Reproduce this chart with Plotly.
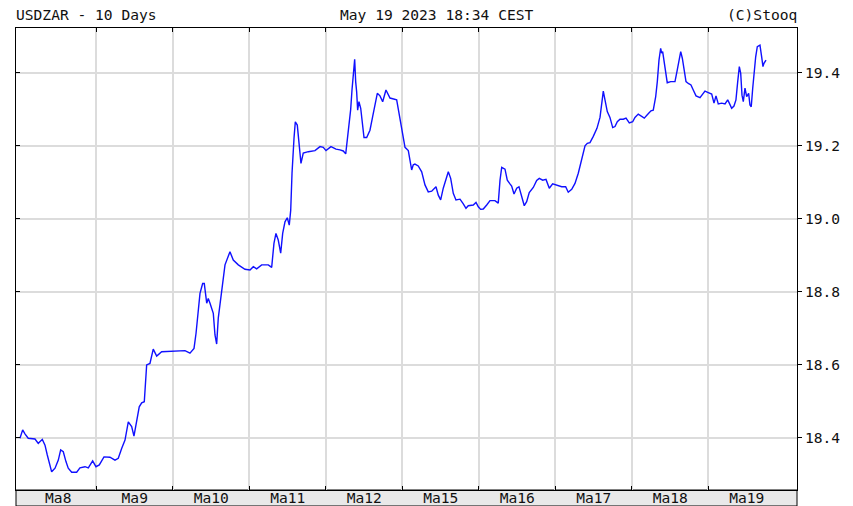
import plotly.graph_objects as go

# Time in days since start of May 8 session, value of USDZAR
t = [0.000,0.035,0.065,0.108,0.196,0.239,0.292,0.327,0.357,0.383,0.414,0.458,0.501,0.532,0.566,0.601,0.631,0.676,0.741,0.784,
     0.850,0.893,0.950,0.993,1.037,1.098,1.176,1.242,1.285,1.329,1.373,1.416,1.460,1.490,1.525,1.559,1.591,1.625,1.656,1.699,
     1.742,1.787,1.852,2.092,2.157,2.222,2.275,2.301,2.331,2.353,2.388,2.409,2.441,2.461,2.484,2.527,2.549,2.571,2.592,2.624,
     2.650,2.680,2.745,2.788,2.854,2.941,3.007,3.050,3.094,3.159,3.246,3.290,3.320,3.346,3.376,3.408,3.434,3.464,3.494,3.520,
     3.539,3.556,3.582,3.599,3.625,3.643,3.660,3.673,3.703,3.769,3.856,3.922,3.965,4.000,4.065,4.131,4.183,4.226,4.258,4.278,
     4.301,4.323,4.340,4.357,4.375,4.388,4.401,4.414,4.431,4.454,4.475,4.497,4.532,4.575,4.610,4.641,4.671,4.706,4.741,4.784,
     4.837,4.924,4.954,4.990,5.010,5.033,5.076,5.098,5.120,5.141,5.163,5.206,5.251,5.294,5.337,5.382,5.438,5.468,5.499,5.533,
     5.565,5.599,5.630,5.664,5.699,5.752,5.795,5.830,5.860,5.925,5.961,5.991,6.022,6.056,6.101,6.144,6.209,6.252,6.275,6.297,
     6.340,6.370,6.405,6.427,6.458,6.493,6.523,6.558,6.592,6.623,6.657,6.710,6.754,6.788,6.833,6.876,6.919,6.963,7.016,7.081,
     7.133,7.167,7.212,7.255,7.298,7.342,7.386,7.416,7.451,7.494,7.542,7.582,7.604,7.625,7.647,7.677,7.712,7.748,7.778,7.808,
     7.843,7.886,7.922,7.965,8.009,8.039,8.082,8.127,8.161,8.200,8.248,8.278,8.310,8.331,8.353,8.375,8.388,8.401,8.422,8.444,
     8.461,8.506,8.562,8.592,8.618,8.637,8.658,8.680,8.706,8.736,8.771,8.801,8.837,8.889,8.954,8.997,9.042,9.072,9.098,9.128,
     9.173,9.216,9.251,9.272,9.303,9.333,9.359,9.382,9.403,9.421,9.438,9.455,9.477,9.499,9.525,9.542,9.559,9.578,9.595,9.617,
     9.638,9.673,9.695,9.712,9.725,9.752]
usdzar = [18.398,18.421,18.410,18.398,18.396,18.384,18.395,18.379,18.352,18.334,18.306,18.316,18.338,18.366,18.361,18.334,18.316,18.305,18.305,18.317,
          18.320,18.317,18.336,18.320,18.325,18.347,18.346,18.338,18.343,18.370,18.393,18.443,18.430,18.404,18.448,18.484,18.495,18.498,18.599,18.603,
          18.642,18.623,18.635,18.637,18.638,18.631,18.644,18.685,18.745,18.795,18.822,18.822,18.768,18.781,18.768,18.740,18.681,18.656,18.727,18.777,
          18.818,18.873,18.909,18.886,18.873,18.861,18.859,18.868,18.862,18.873,18.873,18.866,18.932,18.959,18.941,18.905,18.959,18.991,19.002,18.982,
          19.023,19.124,19.220,19.265,19.256,19.220,19.169,19.151,19.179,19.183,19.186,19.197,19.195,19.186,19.197,19.190,19.188,19.185,19.177,19.215,
          19.252,19.299,19.352,19.407,19.436,19.375,19.347,19.297,19.320,19.302,19.252,19.222,19.222,19.242,19.279,19.311,19.343,19.336,19.320,19.352,
          19.330,19.325,19.288,19.242,19.215,19.195,19.186,19.160,19.133,19.147,19.149,19.144,19.128,19.092,19.073,19.075,19.087,19.064,19.051,19.083,
          19.105,19.128,19.110,19.069,19.051,19.053,19.040,19.028,19.035,19.037,19.044,19.032,19.025,19.026,19.037,19.049,19.049,19.042,19.105,19.140,
          19.135,19.105,19.095,19.089,19.067,19.083,19.087,19.060,19.035,19.046,19.071,19.085,19.104,19.110,19.105,19.107,19.083,19.095,19.092,19.087,
          19.087,19.072,19.080,19.096,19.124,19.160,19.199,19.206,19.208,19.225,19.247,19.277,19.316,19.349,19.325,19.293,19.277,19.249,19.252,19.265,
          19.272,19.272,19.275,19.262,19.265,19.277,19.286,19.281,19.275,19.284,19.295,19.297,19.334,19.375,19.434,19.466,19.453,19.457,19.425,19.393,
          19.372,19.375,19.375,19.407,19.443,19.457,19.439,19.412,19.375,19.370,19.366,19.352,19.336,19.331,19.349,19.345,19.341,19.316,19.336,19.314,
          19.316,19.314,19.325,19.316,19.302,19.308,19.325,19.375,19.416,19.398,19.338,19.320,19.357,19.334,19.343,19.311,19.306,19.357,19.398,19.443,
          19.471,19.475,19.443,19.416,19.425,19.434]

day_labels = ["Ma8", "Ma9", "Ma10", "Ma11", "Ma12", "Ma15", "Ma16", "Ma17", "Ma18", "Ma19"]
day_bounds = [1, 2, 3, 4, 5, 6, 7, 8, 9]
day_centers = [i + 0.5 for i in range(len(day_labels))]
y_ticks = [18.4, 18.6, 18.8, 19.0, 19.2, 19.4]
y_ticktext = ["18.4", "18.6", "18.8", "19.0", "19.2", "19.4"]

title_left = "USDZAR - 10 Days"
title_mid = "May 19 2023 18:34 CEST"
title_right = "(C)Stooq"

XR = [-0.052, 10.157]
YR = [18.2562, 19.5219]
FONT = "DejaVu Sans Mono"
FS = 14.6
GRID = "#dcdcdc"

fig = go.Figure()
fig.add_trace(go.Scatter(x=t, y=usdzar, mode="lines",
                         line=dict(color="#1010ff", width=1.4),
                         showlegend=False, hoverinfo="x+y"))
# empty trace to attach label axis
fig.add_trace(go.Scatter(x=[None], y=[None], xaxis="x2", yaxis="y2",
                         showlegend=False, hoverinfo="skip"))

fig.update_layout(
    width=853, height=506,
    margin=dict(l=16, r=56, t=28, b=16, autoexpand=False),
    paper_bgcolor="white", plot_bgcolor="white",
    font=dict(family=FONT, size=FS, color="#111"),
    xaxis=dict(range=XR, tickmode="array", tickvals=day_bounds,
               ticktext=[""] * len(day_bounds), showticklabels=False,
               showgrid=True, gridcolor=GRID, gridwidth=1.6,
               ticks="inside", ticklen=4, tickcolor="black", tickwidth=1,
               showline=True, linecolor="black", linewidth=1, mirror="ticks",
               zeroline=False, fixedrange=True, automargin=False),
    xaxis2=dict(range=XR, overlaying="x", anchor="y", side="bottom",
                tickmode="array", tickvals=day_centers, ticktext=day_labels,
                showgrid=False, ticks="", zeroline=False, showline=False,
                automargin=False, ticklabelstandoff=-3,
                tickfont=dict(family=FONT, size=FS, color="#111")),
    yaxis=dict(range=YR, side="right", tickmode="array", tickvals=y_ticks,
               ticktext=y_ticktext, showgrid=True, gridcolor=GRID, gridwidth=1.6,
               ticks="outside", ticklen=4, tickcolor="black",
               showline=True, linecolor="black", linewidth=1, mirror=True,
               zeroline=False, automargin=False,
               tickfont=dict(family=FONT, size=FS, color="#111")),
    yaxis2=dict(range=YR, overlaying="y", side="left", anchor="x",
                tickmode="array", tickvals=y_ticks, showticklabels=False,
                showgrid=False, ticks="inside", ticklen=4, tickcolor="black",
                zeroline=False, showline=False, automargin=False),
    shapes=[dict(type="rect", xref="paper", yref="paper",
                 x0=0, x1=1, y0=-16 / 462, y1=0,
                 fillcolor="#e9e9e9", line=dict(color="black", width=1),
                 layer="below")],
    annotations=[
        dict(text=title_left, xref="paper", yref="paper", x=-0.003, y=1.03,
             xanchor="left", yanchor="middle", showarrow=False,
             font=dict(family=FONT, size=FS, color="#111")),
        dict(text=title_mid, xref="paper", yref="paper", x=0.539, y=1.03,
             xanchor="center", yanchor="middle", showarrow=False,
             font=dict(family=FONT, size=FS, color="#111")),
        dict(text=title_right, xref="paper", yref="paper", x=1.002, y=1.03,
             xanchor="right", yanchor="middle", showarrow=False,
             font=dict(family=FONT, size=FS, color="#111")),
    ],
)

fig.write_html("out.html", config={"displayModeBar": False},
               post_script="document.body.style.margin='0';document.body.style.overflow='hidden';")
